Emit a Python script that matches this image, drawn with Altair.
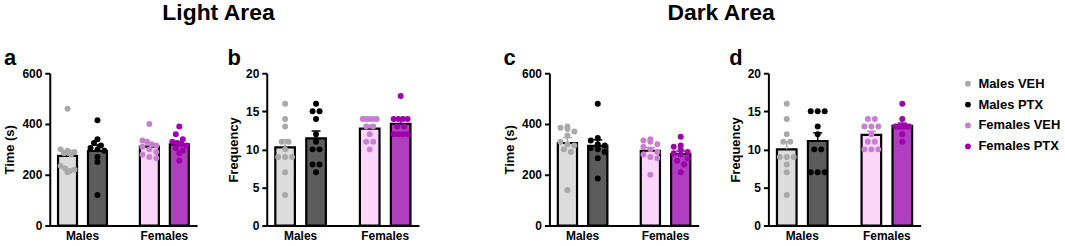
import altair as alt
import pandas as pd

# ---------------- data ----------------
groups = ["Males", "Females"]
treatments = ["VEH", "PTX"]
labels = ["Males VEH", "Males PTX", "Females VEH", "Females PTX"]
point_colors = ["#a9a9a9", "#000000", "#c77fd0", "#9b00aa"]
bar_colors = ["#dcdcdc", "#5c5c5c", "#fbd5fa", "#b13dc0"]

# a: Light area, time (s)
light_time_males_veh = [460, 300, 295, 290, 285, 280, 235, 225, 215, 210, 220]
light_time_males_ptx = [415, 340, 325, 315, 305, 300, 295, 270, 250, 120]
light_time_females_veh = [400, 335, 330, 320, 315, 310, 300, 290, 280, 270, 265]
light_time_females_ptx = [390, 360, 340, 330, 325, 320, 315, 305, 295, 285, 255]
# b: Light area, frequency
light_freq_males_veh = [16, 14, 13, 11, 11, 10, 9, 9, 9, 7, 4]
light_freq_males_ptx = [16, 15, 15, 14, 12, 11, 10, 10, 8, 8, 7]
light_freq_females_veh = [14, 14, 14, 14, 14, 13, 13, 12, 11, 11, 10]
light_freq_females_ptx = [17, 14, 14, 14, 14, 13, 13, 12, 12, 12, 12]
# c: Dark area, time (s)
dark_time_males_veh = [390, 385, 380, 370, 355, 330, 320, 315, 300, 290, 140]
dark_time_males_ptx = [480, 345, 335, 320, 315, 305, 300, 290, 265, 185]
dark_time_females_veh = [340, 335, 330, 320, 310, 300, 290, 280, 270, 265, 200]
dark_time_females_ptx = [350, 315, 310, 300, 290, 285, 280, 265, 255, 240, 210]
# d: Dark area, frequency
dark_freq_males_veh = [16, 14, 12, 11, 11, 9, 9, 9, 8, 7, 4]
dark_freq_males_ptx = [15, 15, 15, 13, 12, 10, 10, 7, 7, 7]
dark_freq_females_veh = [14, 14, 13, 13, 13, 12, 11, 11, 10, 10, 10]
dark_freq_females_ptx = [16, 14, 13, 13, 13, 13, 13, 13, 13, 12, 11]

time_ticks = [0, 200, 400, 600]
freq_ticks = [0, 5, 10, 15, 20]

BAR_FILL = dict(zip(labels, bar_colors))


def make_df(mv, mp, fv, fp):
    rows = []
    for sex, treat, vals in [("Males", "VEH", mv), ("Males", "PTX", mp),
                             ("Females", "VEH", fv), ("Females", "PTX", fp)]:
        for v in vals:
            lab = f"{sex} {treat}"
            rows.append({"sex": sex, "treat": treat, "label": lab,
                         "barfill": BAR_FILL[lab], "value": v})
    return pd.DataFrame(rows)


# ---------------- styling constants ----------------
FONT = "Liberation Sans"
PI, PO = 0.3, 0.05          # outer band padding
SPI, SPO = 0.367, 0.14      # sub-band (treatment) padding
_sstep = 1.0 / (2 - SPI + 2 * SPO)
C1 = _sstep * (SPO + (1 - SPI) / 2)
C2 = C1 + _sstep

LEGEND = alt.Legend(title=None, symbolType="circle", symbolSize=34,
                    symbolStrokeWidth=0, symbolOpacity=1, labelFontSize=13,
                    labelFontWeight="bold", rowPadding=7, offset=37, padding=4)


def make_panel(df, letter, ytitle, ticks, width, height=153):
    ymax = ticks[-1]
    bw = width / (2 - PI + 2 * PO) * (1 - PI)
    base = alt.Chart(df)
    xenc = alt.X("sex:N", sort=groups,
                 scale=alt.Scale(paddingInner=PI, paddingOuter=PO),
                 axis=alt.Axis(title=None, ticks=False, labelAngle=0,
                               labelPadding=5, labelFontSize=12))
    yscale = alt.Scale(domain=[0, ymax], nice=False)
    yaxis = alt.Axis(values=ticks, title=ytitle, titlePadding=5)
    xoff_band = alt.XOffset("treat:N", sort=treatments,
                            scale=alt.Scale(paddingInner=SPI, paddingOuter=SPO))
    color = alt.Color("label:N", scale=alt.Scale(domain=labels, range=point_colors),
                      legend=LEGEND)

    bars = base.mark_bar(stroke="black", strokeWidth=2.2).encode(
        x=xenc,
        xOffset=xoff_band,
        y=alt.Y("mean(value):Q", scale=yscale, axis=yaxis),
        fill=alt.Fill("barfill:N", scale=None),
        detail="label:N",
    )

    err = base.transform_aggregate(
        m="mean(value)", se="stderr(value)", groupby=["sex", "treat", "label"]
    ).transform_calculate(hi="datum.m + datum.se")
    err_rule = err.mark_rule(strokeWidth=1.5, opacity=1).encode(
        x=xenc, xOffset=xoff_band,
        y=alt.Y("m:Q", scale=yscale, axis=yaxis), y2="hi:Q", color=color)
    err_cap = err.mark_tick(thickness=1.5, size=9, opacity=1).encode(
        x=xenc, xOffset=xoff_band,
        y=alt.Y("hi:Q", scale=yscale, axis=yaxis), color=color)

    pts = base.transform_calculate(
        bk=f"round(datum.value / {ymax / 24.0})"
    ).transform_window(
        rk="row_number()", groupby=["sex", "treat", "bk"]
    ).transform_joinaggregate(
        n="count()", groupby=["sex", "treat", "bk"]
    ).transform_calculate(
        pos=(f"(datum.treat == 'VEH' ? {C1} : {C2}) + (datum.rk - (datum.n + 1) / 2)"
             f" * min(7, 14 / max(1, datum.n - 1)) / {bw}")
    ).mark_circle(size=36, opacity=1).encode(
        x=xenc,
        xOffset=alt.XOffset("pos:Q", scale=alt.Scale(domain=[0, 1])),
        y=alt.Y("value:Q", scale=yscale, axis=yaxis),
        color=color,
    )

    return alt.layer(bars, err_rule, err_cap, pts).resolve_scale(
        xOffset="independent"
    ).properties(
        width=width, height=height,
        title=alt.TitleParams(letter, anchor="start", fontSize=22, fontWeight="bold",
                              font=FONT, offset=-3),
    )


pa = make_panel(make_df(light_time_males_veh, light_time_males_ptx,
                        light_time_females_veh, light_time_females_ptx),
                "a", "Time (s)", time_ticks, 148)
pb = make_panel(make_df(light_freq_males_veh, light_freq_males_ptx,
                        light_freq_females_veh, light_freq_females_ptx),
                "b", "Frequency", freq_ticks, 153)
pc = make_panel(make_df(dark_time_males_veh, dark_time_males_ptx,
                        dark_time_females_veh, dark_time_females_ptx),
                "c", "Time (s)", time_ticks, 150)
pd_ = make_panel(make_df(dark_freq_males_veh, dark_freq_males_ptx,
                         dark_freq_females_veh, dark_freq_females_ptx),
                 "d", "Frequency", freq_ticks, 153)

light = alt.hconcat(pa, pb, spacing=30).properties(
    title=alt.TitleParams("Light Area", fontSize=23, fontWeight="bold", font=FONT,
                          anchor="middle", dx=7, offset=22))
dark = alt.hconcat(pc, pd_, spacing=30).properties(
    title=alt.TitleParams("Dark Area", fontSize=23, fontWeight="bold", font=FONT,
                          anchor="middle", dx=9, offset=22))

chart = alt.hconcat(light, dark, spacing=84).properties(
    padding={"left": 3, "top": 2, "right": 0, "bottom": 0}
).configure(
    font=FONT, background="white"
).configure_view(
    stroke=None
).configure_axis(
    grid=False, domainColor="black", domainWidth=2, tickColor="black", tickWidth=2,
    tickSize=5, labelColor="black", labelFont=FONT, labelFontWeight="bold",
    labelFontSize=12, titleColor="black", titleFont=FONT, titleFontWeight="bold",
    titleFontSize=13, labelPadding=3
).configure_legend(
    labelFont=FONT, labelColor="black"
)

chart.save("out.html", embed_options={"renderer": "svg", "actions": False})
